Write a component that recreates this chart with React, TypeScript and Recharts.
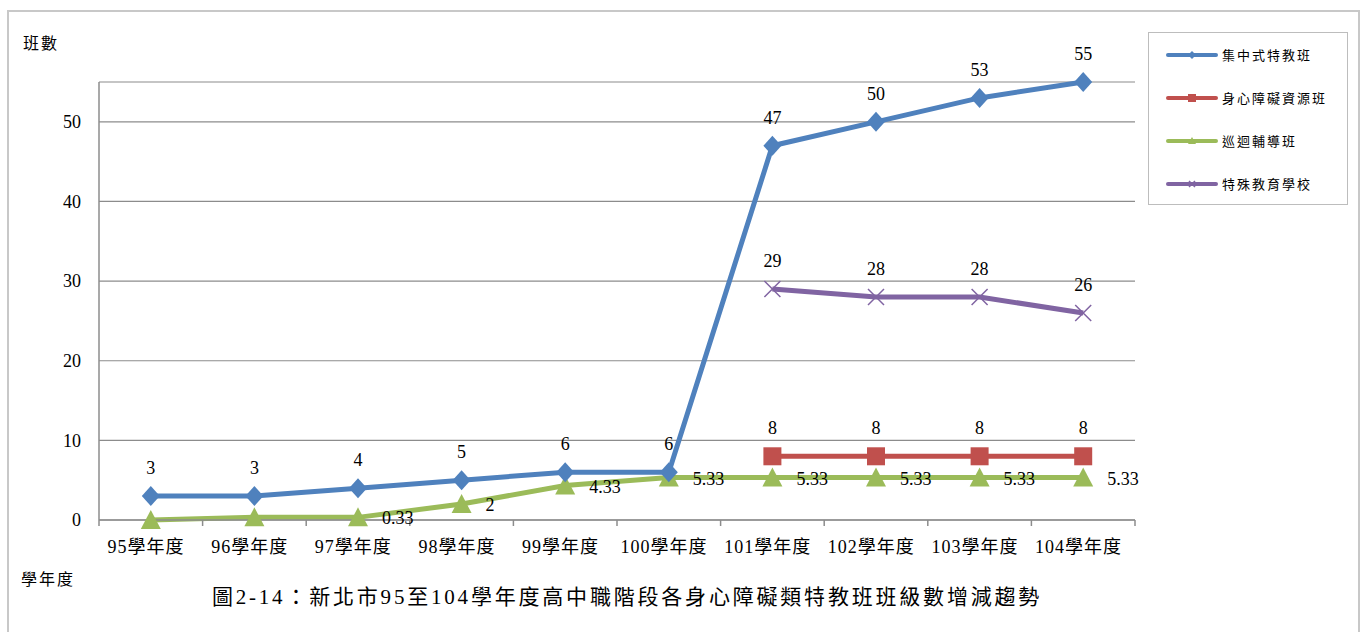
import React from "react";
import { LineChart, Line, XAxis, YAxis, CartesianGrid, LabelList } from "recharts";

const years = ["95學年度", "96學年度", "97學年度", "98學年度", "99學年度", "100學年度", "101學年度", "102學年度", "103學年度", "104學年度"];
const centralized = [3, 3, 4, 5, 6, 6, 47, 50, 53, 55];
const resourceRoom = [null, null, null, null, null, null, 8, 8, 8, 8];
const itinerant = [0, 0.33, 0.33, 2, 4.33, 5.33, 5.33, 5.33, 5.33, 5.33];
const specialSchool = [null, null, null, null, null, null, 29, 28, 28, 26];
const yTicks = [0, 10, 20, 30, 40, 50];
const bounds = [0, 1, 2, 3, 4, 5, 6, 7, 8, 9, 10];

// each year sits in the middle of its slot on a 0..10 axis, so the tick marks fall between years
const data = years.map((year, i) => ({
  year,
  pos: i + 0.5,
  centralized: centralized[i],
  resourceRoom: resourceRoom[i],
  itinerant: itinerant[i],
  specialSchool: specialSchool[i],
}));

const W = 1367;
const H = 632;
const M = { top: 82, right: 232, bottom: 72, left: 0 };
const Y_W = 99;
const HALF_SLOT = (W - M.right - Y_W) / bounds.length / 2;

const BLUE = "#4F81BD";
const RED = "#C0504D";
const GREEN = "#9BBB59";
const PURPLE = "#8064A2";
const AXIS = "#8c8c8c";
const FONT = "'Liberation Serif', 'Noto Sans CJK TC', serif";

const Diamond = (p: any) => {
  const { cx, cy } = p;
  if (cx == null || cy == null || p.value == null) return <g key={p.index} />;
  return <path key={p.index} d={`M${cx},${cy - 10}L${cx + 9},${cy}L${cx},${cy + 10}L${cx - 9},${cy}Z`} fill={BLUE} />;
};

const Square = (p: any) => {
  const { cx, cy } = p;
  if (cx == null || cy == null || p.value == null) return <g key={p.index} />;
  return <rect key={p.index} x={cx - 9} y={cy - 9} width={18} height={18} fill={RED} />;
};

const Triangle = (p: any) => {
  const { cx, cy } = p;
  if (cx == null || cy == null || p.value == null) return <g key={p.index} />;
  return <path key={p.index} d={`M${cx},${cy - 10}L${cx + 10},${cy + 9}L${cx - 10},${cy + 9}Z`} fill={GREEN} />;
};

const Cross = (p: any) => {
  const { cx, cy } = p;
  if (cx == null || cy == null || p.value == null) return <g key={p.index} />;
  return (
    <path key={p.index} d={`M${cx - 8},${cy - 8}L${cx + 8},${cy + 8}M${cx + 8},${cy - 8}L${cx - 8},${cy + 8}`} stroke={PURPLE} strokeWidth={1.5} fill="none" />
  );
};

const topLabel = (p: any) => {
  if (p.value == null) return null;
  return (
    <text x={p.x} y={p.y - 22} textAnchor="middle" fontFamily={FONT} fontSize={18} fill="#000">
      {p.value}
    </text>
  );
};

const greenLabel = (p: any) => {
  if (p.value == null || p.index < 2) return null;
  return (
    <text x={p.x + 24} y={p.y + 7} textAnchor="start" fontFamily={FONT} fontSize={18} fill="#000">
      {p.value}
    </text>
  );
};

const YearTick = (p: any) => {
  const i = p.payload.value;
  if (i >= years.length) return <g />;
  return (
    <text x={p.x + HALF_SLOT} y={p.y} dy={25} textAnchor="middle" fontFamily={FONT} fontSize={18} letterSpacing={1} fill="#000">
      {years[i]}
    </text>
  );
};

const legendItems = [
  { name: "集中式特教班", color: BLUE, mark: "diamond" },
  { name: "身心障礙資源班", color: RED, mark: "square" },
  { name: "巡迴輔導班", color: GREEN, mark: "triangle" },
  { name: "特殊教育學校", color: PURPLE, mark: "cross" },
];

function LegendBox() {
  return (
    <div style={{ position: "absolute", left: 1148, top: 32, width: 200, height: 173, border: "1px solid #bdbdbd", background: "#fff", boxSizing: "border-box" }}>
      {legendItems.map((it) => (
        <div key={it.name} style={{ display: "flex", alignItems: "center", height: 43, paddingLeft: 16 }}>
          <svg width={54} height={12}>
            <line x1={3} y1={6} x2={51} y2={6} stroke={it.color} strokeWidth={4} strokeLinecap="round" />
            {it.mark === "diamond" && <path d="M27,2L31,6L27,10L23,6Z" fill={it.color} />}
            {it.mark === "square" && <rect x={23} y={2} width={8} height={8} fill={it.color} />}
            {it.mark === "triangle" && <path d="M27,2L31,9L23,9Z" fill={it.color} />}
            {it.mark === "cross" && <path d="M24,3L30,9M30,3L24,9" stroke={it.color} strokeWidth={1.5} />}
          </svg>
          <span style={{ fontFamily: FONT, fontSize: 13, marginLeft: 3, letterSpacing: 2 }}>{it.name}</span>
        </div>
      ))}
    </div>
  );
}

export default function App() {
  return (
    <div style={{ position: "absolute", left: 0, top: 0, width: W, height: H, background: "#fff", overflow: "hidden" }}>
      <div style={{ position: "absolute", left: 7, top: 10, width: 1353, height: 640, border: "2px solid #c8c8c8", boxSizing: "border-box" }} />
      <div style={{ position: "absolute", left: 23, top: 30, fontFamily: FONT, fontSize: 16, letterSpacing: 2 }}>班數</div>
      <div style={{ position: "absolute", left: 21, top: 566, fontFamily: FONT, fontSize: 16, letterSpacing: 2 }}>學年度</div>
      <div style={{ position: "absolute", left: 0, width: 1254, top: 580, textAlign: "center", fontFamily: FONT, fontSize: 21, letterSpacing: 2.8 }}>
        圖2-14：新北市95至104學年度高中職階段各身心障礙類特教班班級數增減趨勢
      </div>
      <div style={{ position: "absolute", left: 0, top: 0 }}>
        <LineChart width={W} height={H} data={data} margin={M}>
          <CartesianGrid vertical={false} stroke={AXIS} strokeWidth={1.2} />
          <XAxis
            dataKey="pos"
            type="number"
            domain={[0, 10]}
            ticks={bounds}
            interval={0}
            tick={YearTick}
            tickSize={6}
            tickLine={{ stroke: AXIS, strokeWidth: 1.5 }}
            axisLine={{ stroke: AXIS, strokeWidth: 1.5 }}
            height={40}
          />
          <YAxis
            domain={[0, 55]}
            ticks={yTicks}
            width={Y_W}
            tickSize={0}
            tickMargin={18}
            axisLine={{ stroke: AXIS, strokeWidth: 1.5 }}
            tick={{ fontFamily: FONT, fontSize: 18, fill: "#000" }}
          />
          <Line dataKey="itinerant" stroke={GREEN} strokeWidth={5} dot={Triangle} activeDot={false} isAnimationActive={false}>
            <LabelList dataKey="itinerant" content={greenLabel} />
          </Line>
          <Line dataKey="resourceRoom" stroke={RED} strokeWidth={5} dot={Square} activeDot={false} isAnimationActive={false}>
            <LabelList dataKey="resourceRoom" content={topLabel} />
          </Line>
          <Line dataKey="specialSchool" stroke={PURPLE} strokeWidth={5} dot={Cross} activeDot={false} isAnimationActive={false}>
            <LabelList dataKey="specialSchool" content={topLabel} />
          </Line>
          <Line dataKey="centralized" stroke={BLUE} strokeWidth={5} dot={Diamond} activeDot={false} isAnimationActive={false}>
            <LabelList dataKey="centralized" content={topLabel} />
          </Line>
        </LineChart>
      </div>
      <LegendBox />
    </div>
  );
}
